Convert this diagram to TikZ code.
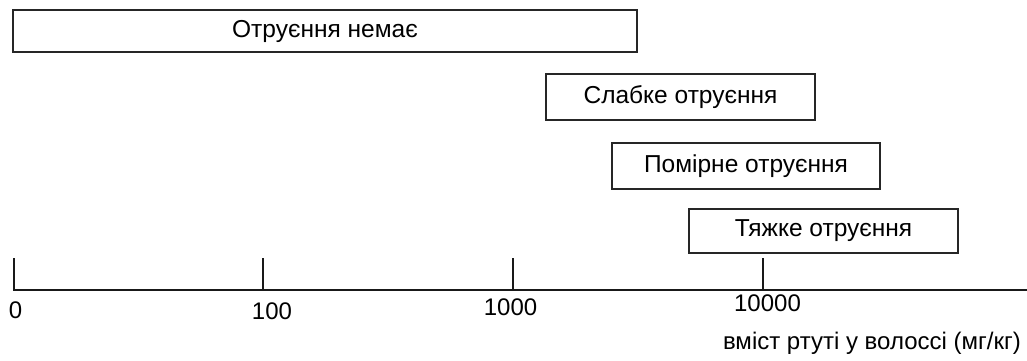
\documentclass[tikz,border=0pt]{standalone}
\usepackage{fontspec}
\setmainfont{Liberation Sans}
\begin{document}
\begin{tikzpicture}[x=1pt,y=-1pt,
  band/.style={draw=black!85, line width=1.2pt, fill=white, inner sep=0pt, font=\fontsize{24.5}{28}\selectfont},
  lbl/.style={inner sep=0pt, font=\fontsize{24}{28}\selectfont},
  tick/.style={line width=2pt, draw=black!90},
  axis/.style={line width=2.6pt, draw=black!90}]
\useasboundingbox (0,0) rectangle (1027,360);
\node[band, minimum width=624pt, minimum height=42pt] (none) at (325,31) {Отруєння немає};
\node[band, minimum width=269pt, minimum height=46pt] (mild) at (680.5,97) {Слабке отруєння};
\node[band, minimum width=268pt, minimum height=46pt] (mod) at (746,166) {Помірне отруєння};
\node[band, minimum width=269pt, minimum height=44pt] (sev) at (823.5,231) {Тяжке отруєння};
\coordinate (a0) at (13,290);
\coordinate (aend) at (1027,290);
\coordinate (t0) at (14,258);
\coordinate (b0) at (14,290);
\coordinate (b1) at (263,290); \coordinate (t1) at (263,258);
\coordinate (b2) at (513,290); \coordinate (t2) at (513,258);
\coordinate (b3) at (763,290); \coordinate (t3) at (763,258);
\draw[axis] (a0) -- (aend);
\draw[tick] (b0) -- (t0);
\draw[tick] (b1) -- (t1);
\draw[tick] (b2) -- (t2);
\draw[tick] (b3) -- (t3);
\node[lbl] (l0) at (15.5,310) {0};
\node[lbl] (l1) at (272,311.5) {100};
\node[lbl] (l2) at (510.5,307.5) {1000};
\node[lbl] (l3) at (767.5,303.5) {10000};
\node[lbl, anchor=east] (unit) at (1021,343) {вміст ртуті у волоссі (мг/кг)};
\end{tikzpicture}
\end{document}
